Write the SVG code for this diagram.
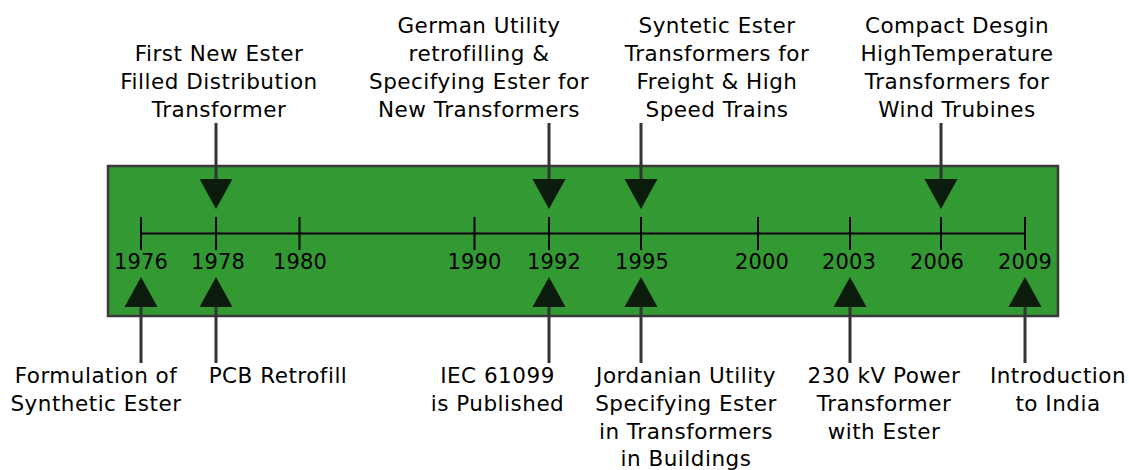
<svg xmlns="http://www.w3.org/2000/svg" width="1129" height="470" viewBox="0 0 1129 470">
<style>
text{font-family:"DejaVu Sans","Liberation Sans",sans-serif;font-size:21.5px;fill:#000;text-anchor:middle;letter-spacing:0.5px}
.yr{font-size:21px;letter-spacing:0.2px}
.band{fill:#339933;stroke:#3a3a3a;stroke-width:2.5}
.axis{stroke:#000;stroke-width:2;fill:none}
.stem{stroke:#333;stroke-width:3;fill:none}
.head{fill:#0c1c0c}
</style>
<rect width="1129" height="470" fill="#fff"/>
<g id="timeline">
<rect class="band" x="108" y="166" width="950" height="150"/>
<path class="axis" d="M141 233.5H1025M141 217V250M216 217V250M299.5 217V250M474.5 217V250M549 217V250M641 217V250M758 217V250M850 217V250M941 217V250M1025 217V250"/>
<text class="yr" x="141" y="269">1976</text>
<text class="yr" x="218" y="269">1978</text>
<text class="yr" x="300" y="269">1980</text>
<text class="yr" x="474.5" y="269">1990</text>
<text class="yr" x="554" y="269">1992</text>
<text class="yr" x="642" y="269">1995</text>
<text class="yr" x="762" y="269">2000</text>
<text class="yr" x="849" y="269">2003</text>
<text class="yr" x="937" y="269">2006</text>
<text class="yr" x="1025" y="269">2009</text>
</g>
<g id="connectors">
<path class="stem" d="M216 123V181M549 123V181M641 123V181M941 123V181M141 305V363M216 305V363M549 305V363M641 305V363M850 305V363M1025 305V363"/>
<polygon class="head" points="199.5,179 232.5,179 216,209"/>
<polygon class="head" points="532.5,179 565.5,179 549,209"/>
<polygon class="head" points="624.5,179 657.5,179 641,209"/>
<polygon class="head" points="924.5,179 957.5,179 941,209"/>
<polygon class="head" points="124.5,307 157.5,307 141,277"/>
<polygon class="head" points="199.5,307 232.5,307 216,277"/>
<polygon class="head" points="532.5,307 565.5,307 549,277"/>
<polygon class="head" points="624.5,307 657.5,307 641,277"/>
<polygon class="head" points="833.5,307 866.5,307 850,277"/>
<polygon class="head" points="1008.5,307 1041.5,307 1025,277"/>
</g>
<g id="event-1978-top"><text x="219" y="61">First New Ester</text><text x="219" y="89">Filled Distribution</text><text x="219" y="117">Transformer</text></g>
<g id="event-1992-top"><text x="479" y="33">German Utility</text><text x="479" y="61">retrofilling &amp;</text><text x="479" y="89">Specifying Ester for</text><text x="479" y="117">New Transformers</text></g>
<g id="event-1995-top"><text x="717" y="33">Syntetic Ester</text><text x="717" y="61">Transformers for</text><text x="717" y="89">Freight &amp; High</text><text x="717" y="117">Speed Trains</text></g>
<g id="event-2006-top"><text x="957" y="33">Compact Desgin</text><text x="957" y="61">HighTemperature</text><text x="957" y="89">Transformers for</text><text x="957" y="117">Wind Trubines</text></g>
<g id="event-1976-bottom"><text x="96" y="383">Formulation of</text><text x="96" y="411">Synthetic Ester</text></g>
<g id="event-1978-bottom"><text x="278" y="383">PCB Retrofill</text></g>
<g id="event-1992-bottom"><text x="497.5" y="383">IEC 61099</text><text x="497.5" y="411">is Published</text></g>
<g id="event-1995-bottom"><text x="686" y="383">Jordanian Utility</text><text x="686" y="411">Specifying Ester</text><text x="686" y="439">in Transformers</text><text x="686" y="466">in Buildings</text></g>
<g id="event-2003-bottom"><text x="884" y="383">230 kV Power</text><text x="884" y="411">Transformer</text><text x="884" y="439">with Ester</text></g>
<g id="event-2009-bottom"><text x="1058" y="383">Introduction</text><text x="1058" y="411">to India</text></g>
</svg>
